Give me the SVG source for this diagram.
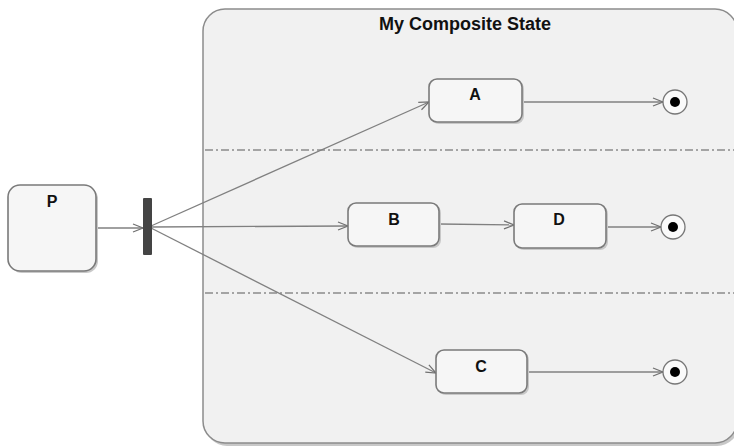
<svg xmlns="http://www.w3.org/2000/svg" width="734" height="446" viewBox="0 0 734 446">
<defs>
<style>
.node{fill:#f6f6f6;stroke:#7a7a7a;stroke-width:1.6}
.shadow{fill:#c8c8c8}
.lbl{font-family:"Liberation Sans",Arial,sans-serif;font-weight:bold;font-size:16px;fill:#111;text-anchor:middle}
.edge{stroke:#808080;stroke-width:1.3;fill:none;marker-end:url(#arr)}
.sep{stroke:#8a8a8a;stroke-width:1.5;stroke-dasharray:8,3,2,3;fill:none}
.fin-o{fill:#fafafa;stroke:#777;stroke-width:1.3}
.fin-i{fill:#000}
</style>
<marker id="arr" markerWidth="12" markerHeight="10" refX="11" refY="5" orient="auto" markerUnits="userSpaceOnUse">
<path d="M1,1 L11,5 L1,9" fill="none" stroke="#707070" stroke-width="1.2"/>
</marker>
</defs>
<rect width="734" height="446" fill="#ffffff"/>
<g id="composite">
<rect x="205" y="11" width="534" height="435" rx="22" class="shadow"/>
<rect x="203" y="9" width="534" height="434" rx="22" fill="#f1f1f1" stroke="#8c8c8c" stroke-width="1.5"/>
<text x="465" y="30" class="lbl" style="font-size:18px">My Composite State</text>
<line x1="205" y1="150" x2="734" y2="150" class="sep"/>
<line x1="205" y1="293" x2="734" y2="293" class="sep"/>
</g>
<g id="connectors">
<line x1="96" y1="228" x2="143" y2="228" class="edge"/>
<line x1="151" y1="226" x2="429" y2="102" class="edge"/>
<line x1="151" y1="227" x2="348" y2="226" class="edge"/>
<line x1="151" y1="228" x2="436" y2="373" class="edge"/>
<line x1="522" y1="102" x2="663" y2="102" class="edge"/>
<line x1="439" y1="224" x2="514" y2="225" class="edge"/>
<line x1="606" y1="227" x2="661" y2="227" class="edge"/>
<line x1="527" y1="372" x2="663" y2="372" class="edge"/>
</g>
<g id="P">
<rect x="10" y="187" width="88" height="86" rx="12" class="shadow"/>
<rect x="8" y="185" width="88" height="86" rx="12" class="node"/>
<text x="52" y="207" class="lbl">P</text>
</g>
<g id="fork">
<rect x="143" y="198" width="9" height="57" rx="1" fill="#444"/>
</g>
<g id="A">
<rect x="431" y="81" width="93" height="43" rx="8" class="shadow"/>
<rect x="429" y="79" width="93" height="43" rx="8" class="node"/>
<text x="475" y="100" class="lbl">A</text>
</g>
<g id="B">
<rect x="350" y="205" width="91" height="43" rx="8" class="shadow"/>
<rect x="348" y="203" width="91" height="43" rx="8" class="node"/>
<text x="394" y="225" class="lbl">B</text>
</g>
<g id="D">
<rect x="516" y="206" width="92" height="44" rx="8" class="shadow"/>
<rect x="514" y="204" width="92" height="44" rx="8" class="node"/>
<text x="559" y="225" class="lbl">D</text>
</g>
<g id="C">
<rect x="438" y="352" width="91" height="43" rx="8" class="shadow"/>
<rect x="436" y="350" width="91" height="43" rx="8" class="node"/>
<text x="481" y="372" class="lbl">C</text>
</g>
<g id="endA">
<circle cx="675" cy="102" r="12" class="fin-o"/>
<circle cx="675" cy="102" r="5" class="fin-i"/>
</g>
<g id="endD">
<circle cx="673" cy="227" r="12" class="fin-o"/>
<circle cx="673" cy="227" r="5" class="fin-i"/>
</g>
<g id="endC">
<circle cx="675" cy="372" r="12" class="fin-o"/>
<circle cx="675" cy="372" r="5" class="fin-i"/>
</g>
</svg>
